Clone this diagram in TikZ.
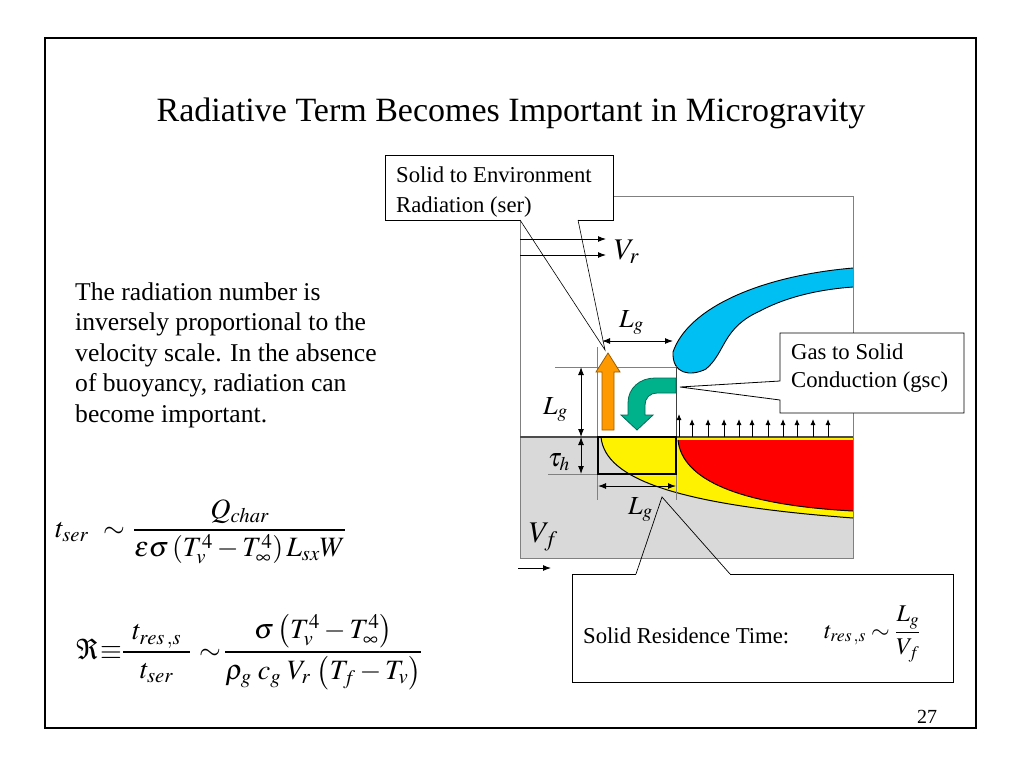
\documentclass[tikz,border=0pt]{standalone}
\usepackage{mathptmx}
\usepackage{fontspec}
\setmainfont{Liberation Serif}
\usetikzlibrary{arrows.meta}
\definecolor{flameblue}{RGB}{0,191,243}
\definecolor{solidgray}{RGB}{217,217,217}
\definecolor{orangearr}{RGB}{255,153,0}
\definecolor{greenarr}{RGB}{0,178,140}
\definecolor{borderg}{RGB}{128,128,128}
\begin{document}
\begin{tikzpicture}[x=1pt,y=-1pt,
  body/.style={anchor=base west,inner sep=0pt,font=\fontsize{25.6}{30}\selectfont},
  callout/.style={draw=black,line width=0.8pt},
  ctext/.style={anchor=base west,inner sep=0pt,font=\fontsize{22.7}{26}\selectfont},
  lab/.style={anchor=base west,inner sep=0pt,font=\fontsize{26}{30}\selectfont},
  labv/.style={anchor=base west,inner sep=0pt,font=\fontsize{30}{34}\selectfont},
  arr/.style={line width=1pt,-{Latex[length=8pt,width=6pt]}},
  darr/.style={line width=1pt,{Latex[length=8pt,width=6pt]}-{Latex[length=8pt,width=6pt]}},
  upa/.style={line width=0.9pt,-{Latex[length=6pt,width=5pt]}},
  ext/.style={draw=borderg,line width=0.6pt},
  eqn/.style={anchor=base west,inner sep=0pt,font=\fontsize{28}{32}\selectfont},
  eqs/.style={anchor=base west,inner sep=0pt,font=\fontsize{24}{28}\selectfont}]
\useasboundingbox (0,0) rectangle (1024,768);
\fill[white] (0,0) rectangle (1024,768);
% slide frame
\draw[line width=1.5pt] (45,38) rectangle (976,728);
% title
\node[anchor=base,inner sep=0pt,font=\fontsize{34}{40}\selectfont] (title) at (511,121) {Radiative Term Becomes Important in Microgravity};
% body text
\node[body] (b1) at (75,300) {The radiation number is};
\node[body] (b2) at (75,330.6) {inversely proportional to the};
\node[body] (b3) at (75,361.2) {velocity scale. In the absence};
\node[body] (b4) at (75,391.8) {of buoyancy, radiation can};
\node[body] (b5) at (75,422.4) {become important.};
% equation 1
\node[eqn] (e1a) at (55,537) {$t_{ser}$};
\node[eqn] (e1b) at (103,537) {$\sim$};
\node[eqn] (e1c) at (133,537) {$\displaystyle\frac{Q_{char}}{\varepsilon\sigma\left(T_v^4-T_\infty^4\right)L_{sx}W}$};
% equation 2
\node[eqn] (e2a) at (76,659) {$\Re$};
\node[eqn] (e2b) at (100,659) {$\equiv$};
\node[eqn] (e2c) at (122,659) {$\displaystyle\frac{\hspace{9pt}t_{res\,,s}\hspace{9pt}}{t_{ser}}$};
\node[eqn] (e2d) at (199,659) {$\sim$};
\node[eqn] (e2e) at (224,659) {$\displaystyle\frac{\sigma\left(T_v^4-T_\infty^4\right)}{\rho_g\;c_g\;V_r\,\left(T_f-T_v\right)}$};
% page number
\node[anchor=base,inner sep=0pt,font=\fontsize{20}{24}\selectfont] (pg) at (927,723) {27};

% ---- diagram ----
\fill[solidgray] (520,437) rectangle (853,558);
% yellow pyrolysis zone
\fill[yellow] (601,437) .. controls (605,480) and (680,505) .. (853,518) -- (853,437) -- cycle;
\draw[line width=1pt] (601,437) .. controls (605,480) and (680,505) .. (853,518);
% red char zone
\fill[red] (678,440) .. controls (682,480) and (740,505) .. (853,511) -- (853,440) -- cycle;
\draw[line width=1pt] (678,440) .. controls (682,480) and (740,505) .. (853,511);
% diagram border
\draw[borderg,line width=0.8pt] (613,196) -- (853,196) -- (853,558) -- (520,558) -- (520,220);
\draw[black!70,line width=1.4pt] (520,437) -- (853,437);
% flame
\fill[flameblue] (853,268) .. controls (760,276) and (688,308) .. (673,352)
  .. controls (672,374) and (690,377) .. (706,369)
  .. controls (726,352) and (722,328) .. (760,311)
  .. controls (790,295) and (825,289) .. (853,287) -- cycle;
\draw[line width=0.9pt] (853,268) .. controls (760,276) and (688,308) .. (673,352)
  .. controls (672,374) and (690,377) .. (706,369)
  .. controls (726,352) and (722,328) .. (760,311)
  .. controls (790,295) and (825,289) .. (853,287);
% extension lines
\draw[ext] (597,347) -- (597,500);
\draw[ext] (555,367) -- (676,367);
\draw[black!75,line width=0.8pt] (676,365) -- (676,437);
\draw[ext] (676,474) -- (676,500);
\draw[ext] (548,474) -- (597,474);
% control box in solid
\draw[line width=1.2pt] (598,437) rectangle (676,474);
% dimension arrows
\coordinate (lgtl) at (602,341); \coordinate (lgtr) at (673,341);
\draw[darr] (lgtl) -- (lgtr);
\coordinate (lgvt) at (581,367); \coordinate (lgvb) at (581,437);
\draw[darr] (lgvt) -- (lgvb);
\coordinate (tht) at (581,437); \coordinate (thb) at (581,474);
\draw[darr] (tht) -- (thb);
\coordinate (lgbl) at (598,486); \coordinate (lgbr) at (676,486);
\draw[darr] (lgbl) -- (lgbr);
% labels
\node[lab] (Lgtop) at (619,327) {$L_g$};
\node[lab] (Lgv) at (543,414) {$L_g$};
\node[lab] (tauh) at (548,466) {$\tau_h$};
\node[lab] (Lgb) at (628,514) {$L_g$};
\node[labv] (Vr) at (614,259) {$V_r$};
\node[labv] (Vf) at (529,542) {$V_f$};
% Vf arrow
\coordinate (vfa) at (518,568); \coordinate (vfb) at (551,568);
\draw[arr] (vfa) -- (vfb);
% blowing arrows
\foreach \xx/\tp in {679/414,692/419,708/419,724/419,739/419,752/419,768/419,783/419,797/419,813/419,828/419}
  \draw[upa] (\xx,437) -- (\xx,\tp);
% orange radiation arrow
\filldraw[fill=orangearr,draw=orangearr!60!black,line width=0.8pt]
  (602,430) -- (602,372) -- (596,372) -- (608,353) -- (620,372) -- (614,372) -- (614,430) -- cycle;
% green conduction arrow
\filldraw[fill=greenarr,draw=greenarr!60!black,line width=0.8pt]
  (676,378) -- (655,378) .. controls (640,378) and (628,388) .. (628,403) -- (628,415) -- (621,415)
  -- (637,430) -- (653,415) -- (645,415) -- (645,405) .. controls (645,398) and (650,393) .. (657,393)
  -- (676,393) -- cycle;

% callout 1: solid to environment radiation
\coordinate (c1tip) at (605,350);
\fill[white] (385,155) rectangle (613,220);
\draw[callout] (578,220) -- (613,220) -- (613,155) -- (385,155) -- (385,220) -- (520,220);
\draw[line width=0.6pt] (520,220) -- (c1tip) -- (578,220);
\node[ctext] (c1a) at (396,182) {Solid to Environment};
\node[ctext] (c1b) at (396,212) {Radiation (ser)};
% Vr arrows
\coordinate (vr1a) at (520,239); \coordinate (vr1b) at (606,239);
\coordinate (vr2a) at (520,255); \coordinate (vr2b) at (606,255);
\draw[arr] (vr1a) -- (vr1b);
\draw[arr] (vr2a) -- (vr2b);

% callout 2: gas to solid conduction
\coordinate (c2tip) at (680,387);
\filldraw[fill=white,draw=black,line width=0.8pt] (780,333) -- (964,333) -- (964,413) -- (780,413) -- (780,400) -- (c2tip) -- (780,381) -- cycle;
\node[ctext] (c2a) at (791,359) {Gas to Solid};
\node[ctext] (c2b) at (791,387) {Conduction (gsc)};

% callout 3: solid residence time
\coordinate (c3tip) at (662,497);
\fill[white] (572,574) rectangle (953,682);
\draw[callout] (636,574) -- (572,574) -- (572,682) -- (953,682) -- (953,574) -- (730,574);
\draw[line width=0.7pt] (636,574) -- (c3tip) -- (730,574);
\node[ctext] (c3) at (583,643) {Solid Residence Time:};
\node[eqs] (c3a) at (824,638) {$t_{res\,,s}$};
\node[eqs] (c3b) at (871,638) {$\sim$};
\node[eqs] (c3c) at (895,638) {$\displaystyle\frac{L_g}{V_f}$};
\end{tikzpicture}
\end{document}
